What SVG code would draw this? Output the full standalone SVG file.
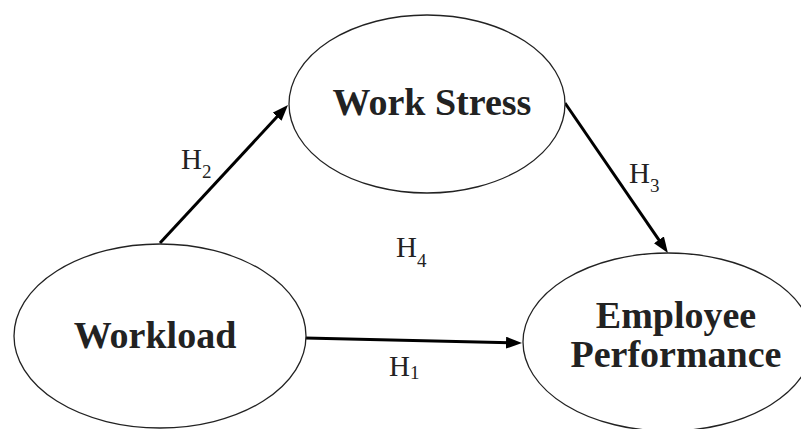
<svg xmlns="http://www.w3.org/2000/svg" width="801" height="429" viewBox="0 0 801 429">
<style>
.node{fill:#fff;stroke:#222;stroke-width:1.3}
.lbl{font-family:"Liberation Serif","Times New Roman",serif;font-weight:bold;font-size:38px;fill:#222;text-anchor:middle}
.h{font-family:"Liberation Serif","Times New Roman",serif;font-size:29px;fill:#222}
.sub{font-size:19px}
.edge{stroke:#000;stroke-width:3;fill:none}
</style>
<defs>
<marker id="arr" markerUnits="userSpaceOnUse" markerWidth="16" markerHeight="12" refX="6" refY="6" orient="auto">
<path d="M0,0 L16,6 L0,12 z" fill="#000"/>
</marker>
</defs>
<rect width="801" height="429" fill="#fff"/>
<g id="connectors">
<line class="edge" x1="160" y1="243" x2="281.2" y2="112.3" marker-end="url(#arr)"/>
<line class="edge" x1="565" y1="103" x2="662.3" y2="244.8" marker-end="url(#arr)"/>
<line class="edge" x1="305" y1="338" x2="512" y2="342.8" marker-end="url(#arr)"/>
</g>
<g id="work-stress">
<ellipse class="node" cx="427" cy="104" rx="138" ry="89"/>
<text class="lbl" x="432" y="115">Work Stress</text>
</g>
<g id="workload">
<ellipse class="node" cx="160" cy="336" rx="146" ry="92"/>
<text class="lbl" x="155" y="348">Workload</text>
</g>
<g id="employee-performance">
<ellipse class="node" cx="668" cy="342" rx="145" ry="89"/>
<text class="lbl" x="676" y="328">Employee</text>
<text class="lbl" x="676" y="367">Performance</text>
</g>
<g id="labels">
<text class="h" x="181" y="169">H<tspan class="sub" dy="9">2</tspan></text>
<text class="h" x="629" y="183">H<tspan class="sub" dy="9">3</tspan></text>
<text class="h" x="396" y="257">H<tspan class="sub" dy="10">4</tspan></text>
<text class="h" x="389" y="376">H<tspan class="sub" dy="3">1</tspan></text>
</g>
</svg>
